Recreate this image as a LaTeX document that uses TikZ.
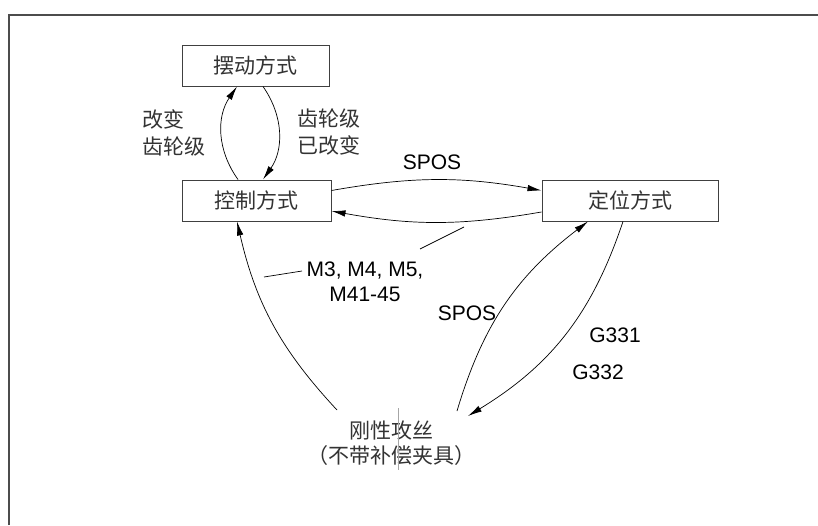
\documentclass[tikz,border=0pt]{standalone}
\usepackage{fontspec}
\setmainfont{Liberation Sans}
\newfontfamily\cjk{Noto Sans CJK SC}
\usetikzlibrary{arrows.meta}

\begin{document}
\begin{tikzpicture}[x=1pt,y=-1pt,
  state/.style={draw=black!75, line width=1pt, minimum height=41pt, inner sep=0pt,
                font=\cjk\fontsize{21}{27}\selectfont, text=black!80, fill=white},
  note/.style={inner sep=0pt, font=\fontsize{21}{25}\selectfont, align=center},
  cnote/.style={inner sep=0pt, font=\cjk\fontsize{21}{27}\selectfont, text=black!80, align=left},
  flow/.style={line width=0.7pt, -{Latex[length=14pt,width=6.5pt]}},
  lead/.style={line width=0.7pt},
]
\useasboundingbox (0,0) rectangle (818,525);
\fill[white] (0,0) rectangle (818,525);
% outer frame (top and left edges)
\draw[line width=1.5pt, black!70] (9,525) -- (9,15) -- (818,15);

% states
\node[state, minimum width=147pt] (swing) at (255.5,65.5) {摆动方式};
\node[state, minimum width=149pt] (ctrl) at (256.5,200.5) {控制方式};
\node[state, minimum width=176pt] (pos) at (630,200.5) {定位方式};
\node[inner sep=0pt, font=\cjk\fontsize{21}{25}\selectfont, text=black!80, align=center] (tap) at (391,443.5)
  {刚性攻丝\\（不带补偿夹具）};

% labels
\node[cnote] (lchg) at (173.5,132.5) {改变\\齿轮级};
\node[cnote] (ldone) at (328.5,132.5) {齿轮级\\已改变};
\node[note] (spos1) at (432,162) {SPOS};
\node[note] (spos2) at (467,313) {SPOS};
\node[note] (g331) at (615,335) {G331};
\node[note] (g332) at (598,372) {G332};
\node[note] (mlab) at (365,282) {M3, M4, M5,\\M41-45};

% transitions
\draw[flow] ([xshift=-18.5pt]ctrl.north) to[bend left=35] ([xshift=-18.5pt]swing.south);
\draw[flow] ([xshift=7.5pt]swing.south) to[bend left=35] ([xshift=6.5pt]ctrl.north);
\draw[flow] ([yshift=10pt]ctrl.east) to[bend left=10] ([yshift=10pt]pos.west);
\draw[flow] ([yshift=-11.5pt]pos.west) to[bend left=10] ([yshift=-10.5pt]ctrl.east);
\draw[flow] ([shift={(-54,-33.5)}]tap.center) to[bend left=15] ([xshift=-19.5pt]ctrl.south);
\draw[flow] ([shift={(66,-32.5)}]tap.center) to[bend left=18] ([xshift=-42pt]pos.south);
\draw[flow] ([xshift=-7pt]pos.south) to[bend left=20] ([shift={(77,-27.5)}]tap.center);

% leader lines of the M-code label
\draw[lead] ([shift={(55,-33)}]mlab.center) -- ([shift={(99,-55)}]mlab.center);
\draw[lead] ([shift={(-63,-11)}]mlab.center) -- ([shift={(-101,-5)}]mlab.center);

% thin caret line in the tapping text
\draw[black!35, line width=0.5pt] ([shift={(7,-35.5)}]tap.center) -- ([shift={(7,26.5)}]tap.center);
\end{tikzpicture}
\end{document}
